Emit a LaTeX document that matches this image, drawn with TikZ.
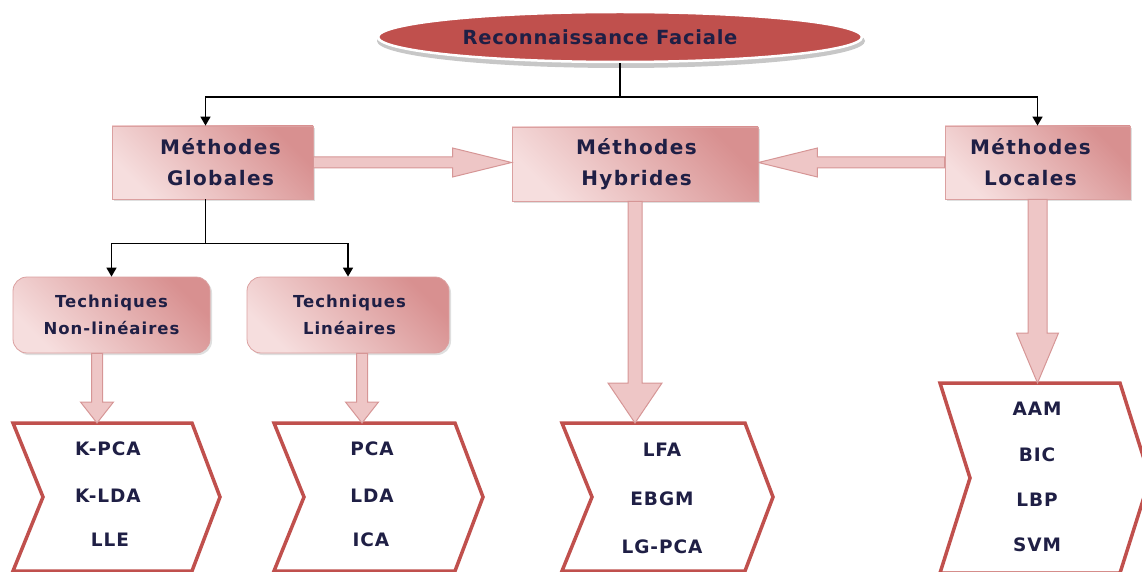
\documentclass[tikz,border=0pt]{standalone}
\usepackage{fontspec}
\setmainfont{DejaVu Sans}
\newfontfamily\tfont[LetterSpace=4]{DejaVu Sans}
\newfontfamily\mfont[LetterSpace=7]{DejaVu Sans}
\newfontfamily\kfont[LetterSpace=6]{DejaVu Sans}
\newfontfamily\ifont[LetterSpace=5]{DejaVu Sans}
\usetikzlibrary{shapes.geometric,arrows.meta,calc,shadows}
\definecolor{ellred}{HTML}{C0504D}
\definecolor{txt}{HTML}{1F1F45}
\definecolor{boxlight}{HTML}{F6DEDE}
\definecolor{boxdark}{HTML}{D89090}
\definecolor{boxedge}{HTML}{DBA0A0}
\definecolor{arrfill}{HTML}{EEC6C6}
\definecolor{arredge}{HTML}{D69696}
\definecolor{chevred}{HTML}{C0504D}
\newcommand\harrowblk[5]{%
  \draw[barrow] let \p1=(#1), \p2=(#2), \n1={sign(\x2-\x1)} in
  (\x1,\y1+#3) -- (\x2-\n1*#5,\y1+#3) -- (\x2-\n1*#5,\y1+#4) -- (\x2,\y1)
  -- (\x2-\n1*#5,\y1-#4) -- (\x2-\n1*#5,\y1-#3) -- (\x1,\y1-#3) -- cycle;}
\newcommand\varrowblk[5]{%
  \draw[barrow] let \p1=(#1), \p2=(#2) in
  (\x2-#3,\y1) -- (\x2-#3,\y2+#5) -- (\x2-#4,\y2+#5) -- (\x2,\y2)
  -- (\x2+#4,\y2+#5) -- (\x2+#3,\y2+#5) -- (\x2+#3,\y1) -- cycle;}
\newcommand\shiftline[2]{\hspace*{#1}#2}
\tikzset{
  meth/.style={rectangle, draw=boxedge, line width=0.8pt,
    top color=boxdark, bottom color=boxlight, shading angle=-45,
    text=txt, align=center,
    drop shadow={shadow xshift=2pt, shadow yshift=-2pt, opacity=0.25},
    font=\mfont\bfseries\fontsize{20}{31}\selectfont},
  tech/.style={meth, rounded corners=14pt,
    font=\kfont\bfseries\fontsize{16.5}{27}\selectfont},
  conn/.style={line width=1.6pt, -{Triangle[width=10pt,length=9pt]}},
  plain/.style={line width=1.6pt},
  barrow/.style={fill=arrfill, draw=arredge, line width=1pt, line join=miter},
  chevs/.style={draw=chevred, line width=3.5pt, fill=white, line join=miter},
  item/.style={text=txt, font=\ifont\bfseries\fontsize{18.5}{20}\selectfont, inner sep=0pt},
}
\begin{document}
\begin{tikzpicture}[x=1pt,y=-1pt]
\useasboundingbox (0,0) rectangle (1142,572);
\clip (0,0) rectangle (1142,572);
% title ellipse
\fill[black!22] (621,41) ellipse [x radius=244pt, y radius=27pt];
\node[ellipse, fill=ellred, draw=white, line width=2.5pt, minimum width=484pt,
  minimum height=50pt, text=txt, font=\tfont\bfseries\fontsize{19.5}{21}\selectfont]
  (rf) at (620,37) {Reconnaissance Faciale\hspace*{40pt}};
% method boxes
\node[meth, minimum width=201pt, minimum height=73pt] (mg) at (212.5,162.5)
  {\shiftline{16pt}{Méthodes}\\\shiftline{16pt}{Globales}};
\node[meth, minimum width=246pt, minimum height=74pt] (mh) at (635,164)
  {\shiftline{3pt}{Méthodes}\\\shiftline{3pt}{Hybrides}};
\node[meth, minimum width=185pt, minimum height=73pt] (ml) at (1037.5,162.5)
  {Méthodes\hspace*{14pt}\\Locales\hspace*{14pt}};
% technique boxes
\node[tech, minimum width=197pt, minimum height=76pt] (tn) at (111.5,315) {Techniques\\Non-linéaires};
\node[tech, minimum width=202pt, minimum height=76pt] (tl) at (348,315) {\shiftline{3pt}{Techniques}\\\shiftline{3pt}{Linéaires}};
% chevrons
\draw[chevs] (13,423) -- (192,423) -- (220,497) -- (192,571) -- (13,571) -- (43,497) -- cycle;
\draw[chevs] (274,423) -- (455,423) -- (483,497) -- (455,571) -- (274,571) -- (304,497) -- cycle;
\draw[chevs] (562,423) -- (745,423) -- (773,497) -- (745,571) -- (562,571) -- (592,497) -- cycle;
\draw[chevs] (940,383) -- (1120,383) -- (1150,478) -- (1120,573) -- (940,573) -- (970,478) -- cycle;
\coordinate (c1) at (97,423);
\coordinate (c2) at (362,423);
\coordinate (c3) at (635,423);
\coordinate (c4) at (1037.5,383);
% chevron texts
\node[item] (a1) at (108,449) {K-PCA};
\node[item] (a2) at (108,496) {K-LDA};
\node[item] (a3) at (110,540) {LLE};
\node[item] (b1) at (372,449) {PCA};
\node[item] (b2) at (372,496) {LDA};
\node[item] (b3) at (371,540) {ICA};
\node[item] (h1) at (662,450) {LFA};
\node[item] (h2) at (662,499) {EBGM};
\node[item] (h3) at (662,547) {LG-PCA};
\node[item] (l1) at (1037,409) {AAM};
\node[item] (l2) at (1037,455) {BIC};
\node[item] (l3) at (1037,500) {LBP};
\node[item] (l4) at (1037,545) {SVM};
% connectors
\coordinate (j1) at (620,97);
\draw[plain] (rf.south) -- (j1);
\draw[conn] (j1) -| ($(mg.north)+(-7,0)$);
\draw[conn] (j1) -| (ml.north);
\coordinate (j2) at ($(mg.south)+(-7,44)$);
\draw[plain] ($(mg.south)+(-7,0)$) -- (j2);
\draw[conn] (j2) -| (tn.north);
\draw[conn] (j2) -| (tl.north);
% block arrows
\harrowblk{mg.east}{mh.west}{5.5pt}{14.5pt}{59pt}
\harrowblk{ml.west}{mh.east}{5.5pt}{14.5pt}{59pt}
\varrowblk{tn.south}{c1}{5.5pt}{16.5pt}{21pt}
\varrowblk{tl.south}{c2}{5.5pt}{16.5pt}{21pt}
\varrowblk{mh.south}{c3}{7pt}{27pt}{40pt}
\varrowblk{ml.south}{c4}{9.5pt}{21pt}{50pt}
\end{tikzpicture}
\end{document}
